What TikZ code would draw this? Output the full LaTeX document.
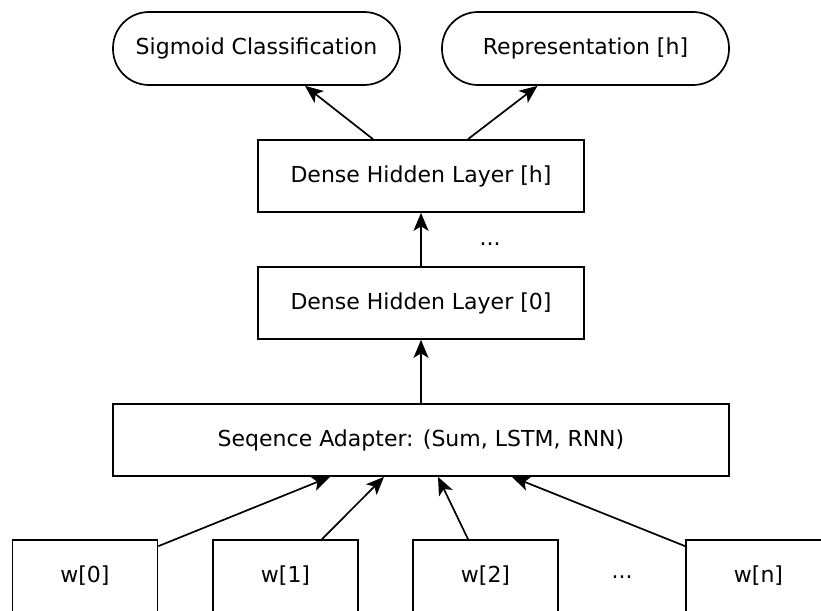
\documentclass[tikz,border=0pt]{standalone}
\usepackage{fontspec}
\setmainfont{DejaVu Sans}
\usetikzlibrary{arrows.meta}
\begin{document}
\begin{tikzpicture}[x=1pt,y=-1pt,
  every node/.style={font=\fontsize{22}{26}\selectfont},
  pill/.style={draw,line width=1.7pt,rounded corners=36pt,minimum width=287pt,minimum height=73pt,inner sep=0pt},
  layer/.style={draw,line width=1.7pt,minimum width=326pt,minimum height=72pt,inner sep=0pt},
  wbox/.style={draw,line width=1.7pt,minimum width=145pt,minimum height=72pt,inner sep=0pt},
  plain/.style={inner sep=0pt},
  arr/.style={line width=1.7pt,-{Stealth[length=18pt,width=15pt,inset=4.5pt]}}]
\useasboundingbox (0,0) rectangle (821,610);
\node[pill] (sig) at (256.5,48.5) {Sigmoid Classification};
\node[pill] (rep) at (585.5,48.5) {Representation [h]};
\node[layer] (dh) at (421,176) {Dense Hidden Layer [h]};
\node[plain] (dots1) at (490,244) {...};
\node[layer] (d0) at (421,303) {Dense Hidden Layer [0]};
\node[draw,line width=1.7pt,minimum width=616pt,minimum height=72pt,inner sep=0pt] (ad) at (421,440) {Seqence Adapter: (Sum, LSTM, RNN)};
\node[wbox] (w0) at (85,576) {w[0]};
\node[wbox] (w1) at (285.5,576) {w[1]};
\node[wbox] (w2) at (485.5,576) {w[2]};
\node[plain] (dots2) at (622,577) {...};
\node[wbox] (wn) at (758.5,576) {w[n]};
\draw[arr] ([xshift=-48pt]dh.north) -- ([xshift=48.5pt]sig.south);
\draw[arr] ([xshift=47pt]dh.north) -- ([xshift=-48pt]rep.south);
\draw[arr] (d0.north) -- (dh.south);
\draw[arr] (ad.north) -- (d0.south);
\draw[arr] ([yshift=-7pt]w0.north east) -- ([xshift=-91pt]ad.south);
\draw[arr] ([xshift=36.5pt]w1.north) -- ([xshift=-37pt]ad.south);
\draw[arr] ([xshift=-17.5pt]w2.north) -- ([xshift=17pt]ad.south);
\draw[arr] ([yshift=-7pt]wn.north west) -- ([xshift=91pt]ad.south);
\end{tikzpicture}
\end{document}
